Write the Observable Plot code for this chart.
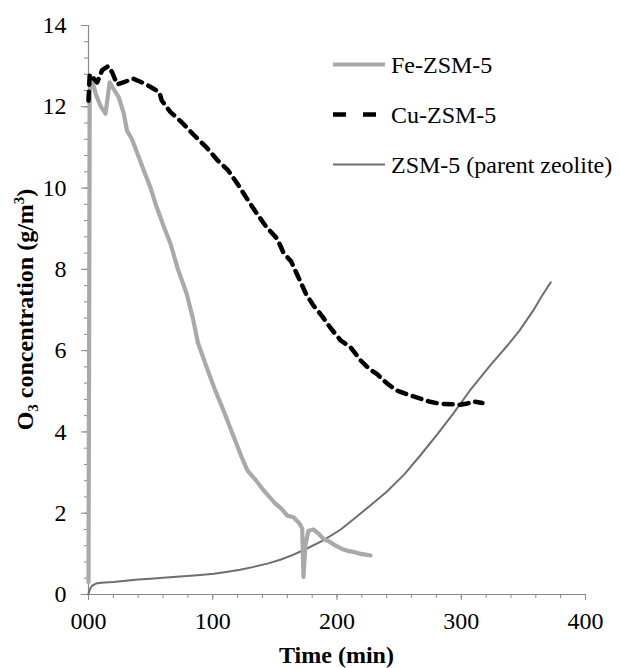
<!DOCTYPE html>
<html>
<head>
<meta charset="utf-8">
<script src="https://cdn.jsdelivr.net/npm/d3@7"></script>
<script src="https://cdn.jsdelivr.net/npm/@observablehq/plot@0.6"></script>
<style>
  html, body { margin: 0; padding: 0; background: #fff; }
  #chart svg { display: block; }
</style>
</head>
<body>
<div id="chart"></div>
<script>
// ---- data (time in min, O3 concentration in g/m3) ----
const seriesNames = ["Fe-ZSM-5", "Cu-ZSM-5", "ZSM-5 (parent zeolite)"];
const xTicks = [0, 100, 200, 300, 400];
const xTickLabels = ["000", "100", "200", "300", "400"];
const yTicks = [0, 2, 4, 6, 8, 10, 12, 14];

const feZSM5 = [
  [0,0.3],[1,12.4],[3,12.64],[6,12.3],[10,12.0],[13.7,11.83],[17,12.6],[20,12.45],
  [24.4,12.23],[28.4,11.83],[31,11.41],[35,11.2],[40.5,10.76],[44.5,10.43],[50,10.0],
  [54,9.61],[60,9.1],[66,8.63],[72,8.0],[79,7.4],[84,6.8],[88,6.2],[95,5.6],[101,5.1],
  [109,4.5],[117,3.87],[123,3.4],[128,3.05],[135,2.8],[141,2.56],[150,2.25],[155,2.12],
  [160,1.94],[165,1.9],[170,1.74],[172,1.62],[173,0.43],[174.5,1.2],[177,1.57],[181,1.6],
  [185,1.5],[189,1.37],[194,1.3],[199,1.2],[204,1.12],[208,1.08],[213,1.05],[219,1.0],
  [223,0.98],[227,0.96]
];

const cuZSM5 = [
  [0,12.15],[1,12.8],[4,12.7],[7,12.6],[11,12.9],[16,13.0],[19,12.85],[23,12.55],
  [28,12.6],[36,12.69],[46,12.56],[52,12.45],[57,12.36],[59,12.15],[66,11.87],[75,11.62],
  [85,11.3],[95,11.0],[104,10.68],[112,10.45],[120,10.1],[129,9.67],[136,9.35],[143,9.05],
  [152,8.75],[157,8.4],[163,8.2],[169,7.8],[175,7.4],[181,7.11],[188,6.85],[195,6.55],
  [203,6.25],[211,6.08],[219,5.76],[226,5.55],[232,5.43],[240,5.2],[248,5.02],[256,4.93],
  [264,4.85],[274,4.75],[283,4.69],[292,4.68],[299,4.67],[305,4.7],[310,4.75],[317,4.71]
];

const parentZSM5 = [
  [0,0.02],[1,0.12],[3,0.22],[6,0.27],[10,0.29],[20,0.31],[30,0.34],[40,0.37],[50,0.39],
  [60,0.41],[74,0.44],[90,0.48],[101,0.51],[112,0.56],[122,0.61],[133,0.68],[144,0.76],
  [155,0.86],[165,0.98],[175,1.12],[189,1.33],[203,1.6],[216,1.92],[228,2.22],[240,2.53],
  [254,2.95],[267,3.42],[281,3.95],[294,4.47],[307,5.02],[316,5.36],[324,5.66],[337,6.12],
  [347,6.5],[358,6.99],[365,7.35],[372,7.68]
];

// ---- chart ----
const W = 620, H = 668;
const mL = 88, mR = 35, mT = 25, mB = 74;
const axisColor = "#8a8a8a";
const serif = "Liberation Serif";

const plot = Plot.plot({
  width: W,
  height: H,
  marginLeft: mL,
  marginRight: mR,
  marginTop: mT,
  marginBottom: mB,
  style: { fontSize: "24px", background: "#fff", color: "#000" },
  x: { domain: [0, 400] },
  y: { domain: [0, 14] },
  marks: [
    Plot.axisX(d3.range(0, 401, 20), { tickSize: 4, stroke: axisColor, tickFormat: () => "", label: null }),
    Plot.axisX(xTicks, { tickSize: 6, tickPadding: 11, stroke: axisColor, tickFormat: (d) => xTickLabels[xTicks.indexOf(d)], label: null, fill: "#000" }),
    Plot.axisY(d3.range(0, 14.01, 0.4), { tickSize: 4, stroke: axisColor, tickFormat: () => "", label: null }),
    Plot.axisY(yTicks, { tickSize: 7, tickPadding: 15, stroke: axisColor, label: null, fill: "#000" }),
    Plot.ruleY([0], { stroke: axisColor, strokeWidth: 1.2 }),
    Plot.ruleX([0], { stroke: axisColor, strokeWidth: 1.2 }),
    Plot.line(parentZSM5, { x: (d) => d[0], y: (d) => d[1], stroke: "#6e6e6e", strokeWidth: 2 }),
    Plot.line(feZSM5, { x: (d) => d[0], y: (d) => d[1], stroke: "#a9a9a9", strokeWidth: 4.2, strokeLinejoin: "round" }),
    Plot.line(cuZSM5, { x: (d) => d[0], y: (d) => d[1], stroke: "#000", strokeWidth: 4.5, strokeDasharray: "9,7" })
  ]
});

document.getElementById("chart").appendChild(plot);

const svg = d3.select(plot);
svg.attr("font-family", serif).attr("font-size", 24);

// axis titles
svg.append("text")
  .attr("x", (mL + (W - mR)) / 2)
  .attr("y", 663)
  .attr("text-anchor", "middle")
  .attr("font-weight", "bold")
  .attr("font-size", 24)
  .attr("fill", "#000")
  .text("Time (min)");

const yt = svg.append("text")
  .attr("transform", `translate(33, ${(mT + (H - mB)) / 2}) rotate(-90)`)
  .attr("text-anchor", "middle")
  .attr("font-weight", "bold")
  .attr("font-size", 24)
  .attr("fill", "#000");
yt.append("tspan").text("O");
yt.append("tspan").attr("font-size", 15).attr("dy", 5).text("3");
yt.append("tspan").attr("dy", -5).text(" concentration (g/m");
yt.append("tspan").attr("font-size", 15).attr("dy", -9).text("3");
yt.append("tspan").attr("dy", 9).text(")");

// legend
const legendStyles = [
  { stroke: "#a9a9a9", width: 4.2, dash: null, x2: 385 },
  { stroke: "#000", width: 4.5, dash: "13,17", x2: 376 },
  { stroke: "#6e6e6e", width: 2, dash: null, x2: 385 }
];
const legendY = [64.5, 114.5, 164.5];
const lg = svg.append("g");
seriesNames.forEach((name, i) => {
  const s = legendStyles[i];
  const line = lg.append("line")
    .attr("x1", 333).attr("x2", s.x2)
    .attr("y1", legendY[i]).attr("y2", legendY[i])
    .attr("stroke", s.stroke).attr("stroke-width", s.width);
  if (s.dash) line.attr("stroke-dasharray", s.dash);
  lg.append("text")
    .attr("x", 391).attr("y", legendY[i])
    .attr("dy", "0.35em")
    .attr("text-anchor", "start")
    .attr("font-size", 24)
    .attr("fill", "#000")
    .text(name);
});

svg.selectAll("text").attr("font-family", serif);
</script>
</body>
</html>
